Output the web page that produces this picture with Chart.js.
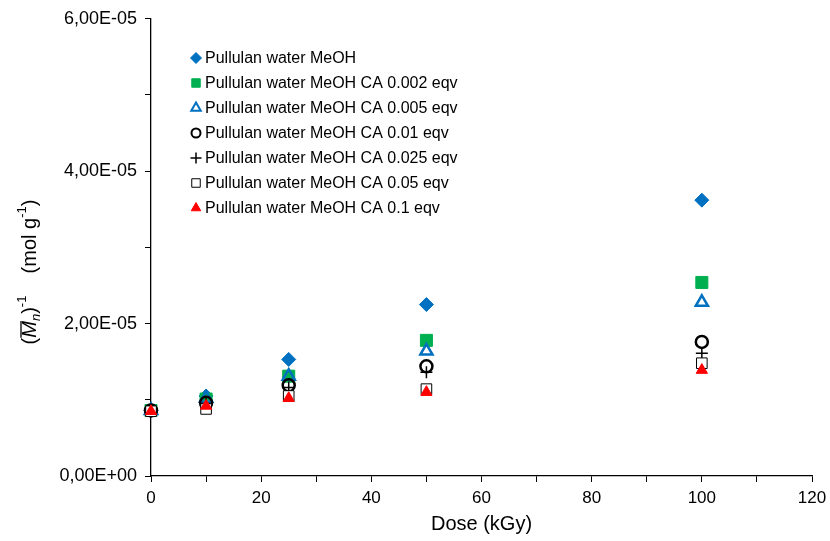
<!DOCTYPE html>
<html>
<head>
<meta charset="utf-8">
<script src="https://cdn.jsdelivr.net/npm/chart.js@4"></script>
<style>
  html, body { margin: 0; padding: 0; background: #ffffff; }
  #wrap { width: 830px; height: 541px; }
</style>
</head>
<body>
<div id="wrap"><canvas id="doseChart" width="830" height="541"></canvas></div>
<script>
const doses = [0, 10, 25, 50, 100];

const seriesNames = [
    'Pullulan water MeOH',
    'Pullulan water MeOH CA 0.002 eqv',
    'Pullulan water MeOH CA 0.005 eqv',
    'Pullulan water MeOH CA 0.01 eqv',
    'Pullulan water MeOH CA 0.025 eqv',
    'Pullulan water MeOH CA 0.05 eqv',
    'Pullulan water MeOH CA 0.1 eqv'
];

const pullulan = [8.6e-6, 1.05e-5, 1.53e-5, 2.25e-5, 3.62e-5];
const ca0002 = [8.6e-6, 1.01e-5, 1.31e-5, 1.78e-5, 2.54e-5];
const ca0005 = [8.6e-6, 1.02e-5, 1.31e-5, 1.64e-5, 2.28e-5];
const ca001 = [8.6e-6, 9.6e-6, 1.19e-5, 1.44e-5, 1.76e-5];
const ca0025 = [8.6e-6, 9.5e-6, 1.16e-5, 1.36e-5, 1.61e-5];
const ca005 = [8.5e-6, 8.8e-6, 1.05e-5, 1.14e-5, 1.48e-5];
const ca01 = [8.5e-6, 9.2e-6, 1.02e-5, 1.1e-5, 1.39e-5];

const yTicks = ['0,00E+00', '2,00E-05', '4,00E-05', '6,00E-05'];
const xTicks = ['0', '20', '40', '60', '80', '100', '120'];

function toPoints(values) {
    return doses.map((d, i) => ({ x: d, y: values[i] }));
}

const blue = '#0070C0';
const green = '#00B050';
const red = '#FF0000';

const styles = [
    { pointStyle: 'rectRot', borderColor: blue, backgroundColor: blue, pointRadius: 7, pointBorderWidth: 1, legendR: 5.5 },
    { pointStyle: 'rect', borderColor: green, backgroundColor: green, pointRadius: 8.5, pointBorderWidth: 1, legendR: 6 },
    { pointStyle: 'triangle', borderColor: blue, backgroundColor: 'rgba(255,255,255,0)', pointRadius: 7, pointBorderWidth: 2.5, legendR: 5.5 },
    { pointStyle: 'circle', borderColor: '#000000', backgroundColor: 'rgba(255,255,255,0)', pointRadius: 6, pointBorderWidth: 2.5, legendR: 4.5 },
    { pointStyle: 'cross', borderColor: '#000000', backgroundColor: '#000000', pointRadius: 6, pointBorderWidth: 1.5, legendR: 5.5 },
    { pointStyle: 'rect', borderColor: '#000000', backgroundColor: '#ffffff', pointRadius: 7.5, pointBorderWidth: 1, legendR: 6 },
    { pointStyle: 'triangle', borderColor: red, backgroundColor: red, pointRadius: 6.5, pointBorderWidth: 1, legendR: 5.5 }
];

const allValues = [pullulan, ca0002, ca0005, ca001, ca0025, ca005, ca01];

const datasets = allValues.map((vals, i) => ({
    label: seriesNames[i],
    data: toPoints(vals),
    showLine: false,
    clip: false,
    order: 7 - i,
    pointStyle: styles[i].pointStyle,
    borderColor: styles[i].borderColor,
    backgroundColor: styles[i].backgroundColor,
    pointRadius: styles[i].pointRadius,
    pointBorderWidth: styles[i].pointBorderWidth,
    legendR: styles[i].legendR
}));

const FONT = 'Liberation Sans, Arial, Helvetica, sans-serif';

// legend inside the plot + axis titles
const extras = {
    id: 'extras',
    afterDraw(chart) {
        const ctx = chart.ctx;
        const area = chart.chartArea;
        ctx.save();

        // legend
        ctx.font = '16px ' + FONT;
        ctx.textBaseline = 'middle';
        ctx.textAlign = 'left';
        chart.data.datasets.forEach((ds, i) => {
            const y = 58 + i * 25;
            const x = 196;
            ctx.fillStyle = ds.backgroundColor;
            ctx.strokeStyle = ds.borderColor;
            ctx.lineWidth = ds.pointBorderWidth > 1.5 ? 2 : ds.pointBorderWidth;
            Chart.helpers.drawPoint(ctx, { pointStyle: ds.pointStyle, radius: ds.legendR, borderWidth: ctx.lineWidth, rotation: 0 }, x, y);
            ctx.fillStyle = '#000000';
            ctx.fillText(ds.label, 205, y + 1);
        });

        // x title
        ctx.font = '20px ' + FONT;
        ctx.textAlign = 'center';
        ctx.fillStyle = '#000000';
        ctx.fillText('Dose (kGy)', (area.left + area.right) / 2, 524);

        // y title: (Mn)^-1   (mol g^-1)
        ctx.translate(30, 272);
        ctx.rotate(-Math.PI / 2);
        const parts = [
            { t: '(', f: '20px ' + FONT, dy: 0 },
            { t: 'M', f: 'italic 20px ' + FONT, dy: 0, bar: true },
            { t: 'n', f: 'italic 13px ' + FONT, dy: 6 },
            { t: ')', f: '20px ' + FONT, dy: 0 },
            { t: '-1', f: '13px ' + FONT, dy: -8 },
            { t: '    (mol g', f: '20px ' + FONT, dy: 0 },
            { t: '-1', f: '13px ' + FONT, dy: -8 },
            { t: ')', f: '20px ' + FONT, dy: 0 }
        ];
        let total = 0;
        parts.forEach(p => { ctx.font = p.f; total += ctx.measureText(p.t).width; });
        let cx = -total / 2;
        ctx.textAlign = 'left';
        parts.forEach(p => {
            ctx.font = p.f;
            const w = ctx.measureText(p.t).width;
            ctx.fillText(p.t, cx, p.dy);
            if (p.bar) {
                ctx.beginPath();
                ctx.lineWidth = 1.3;
                ctx.strokeStyle = '#000000';
                ctx.moveTo(cx, -9);
                ctx.lineTo(cx + w, -9);
                ctx.stroke();
            }
            cx += w;
        });
        ctx.restore();
    }
};

const ctx = document.getElementById('doseChart').getContext('2d');
new Chart(ctx, {
    type: 'scatter',
    data: { datasets: datasets },
    options: {
        responsive: false,
        animation: false,
        events: [],
        layout: { padding: { top: 18, right: 18, left: 0, bottom: 0 } },
        plugins: {
            legend: { display: false },
            tooltip: { enabled: false }
        },
        scales: {
            x: {
                type: 'linear',
                min: 0,
                max: 120,
                afterFit: (scale) => {
                    scale.height = 65;
                    scale.paddingRight = 0;
                    scale.paddingLeft = 0;
                },
                border: { display: true, color: '#000000', width: 1.3 },
                grid: { display: true, drawOnChartArea: false, drawTicks: true, tickLength: 6, color: '#000000', lineWidth: 1 },
                ticks: {
                    stepSize: 10,
                    padding: 6,
                    color: '#000000',
                    font: { family: FONT, size: 17 },
                    maxRotation: 0,
                    autoSkip: false,
                    callback: (v) => {
                        const s = String(Math.round(v));
                        return xTicks.includes(s) && Math.round(v) % 20 === 0 ? s : '';
                    }
                }
            },
            y: {
                type: 'linear',
                min: 0,
                max: 6e-5,
                afterFit: (scale) => { scale.width = 151; },
                border: { display: true, color: '#000000', width: 1.3 },
                grid: { display: true, drawOnChartArea: false, drawTicks: true, tickLength: 6, color: '#000000', lineWidth: 1 },
                ticks: {
                    stepSize: 1e-5,
                    padding: 8,
                    color: '#000000',
                    font: { family: FONT, size: 18 },
                    autoSkip: false,
                    callback: (v) => {
                        const k = Math.round(v / 1e-5);
                        return k % 2 === 0 ? yTicks[k / 2] : '';
                    }
                }
            }
        }
    },
    plugins: [extras]
});
</script>
</body>
</html>
